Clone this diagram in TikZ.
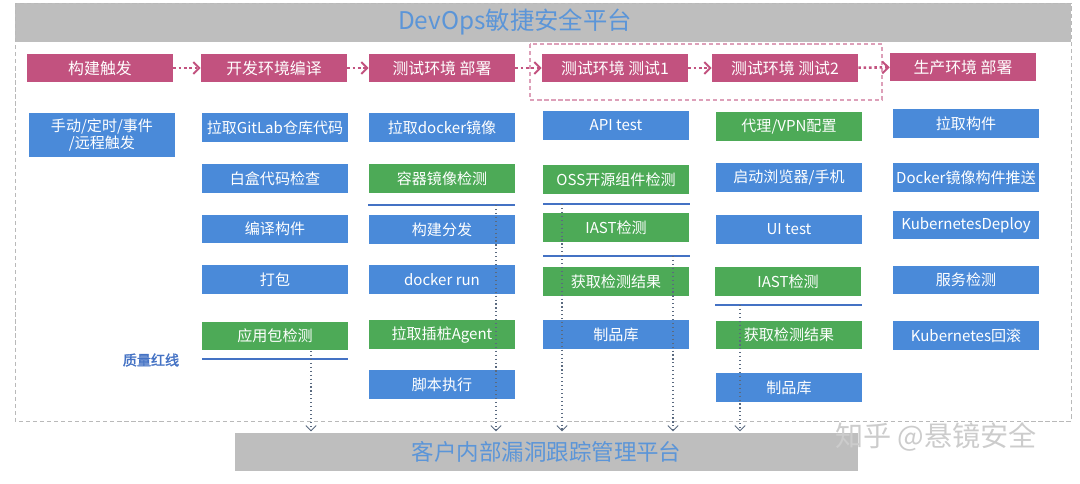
\documentclass[tikz,border=0pt]{standalone}
\usepackage{fontspec}
\setmainfont{Noto Sans CJK SC}[AutoFakeBold=2]
\usetikzlibrary{arrows.meta,calc,positioning}
\definecolor{stagepink}{HTML}{C2527F}
\definecolor{taskblue}{HTML}{4A8AD9}
\definecolor{checkgreen}{HTML}{4DAA57}
\definecolor{titleblue}{HTML}{5B95D8}
\definecolor{bandgray}{HTML}{BEBEBE}
\definecolor{gateblue}{HTML}{4472C4}
\definecolor{reportgray}{HTML}{5A6A80}

\begin{document}
\begin{tikzpicture}[x=0.025cm,y=-0.025cm,
  every node/.style={font=\fontsize{10.7}{12.5}\selectfont},
  box/.style={minimum width=3.65cm,minimum height=0.72cm,inner sep=0pt,text=white,align=center},
  stage/.style={box,fill=stagepink,font=\fontsize{11.3}{13}\selectfont},
  task/.style={box,fill=taskblue},
  check/.style={box,fill=checkgreen},
  flow/.style={stagepink,line width=1.8pt,dotted,
    -{Straight Barb[length=1.5mm,width=3mm,line width=1.4pt]}},
  gate/.style={gateblue,line width=1.6pt},
  report/.style={reportgray,line width=0.8pt,dotted,shorten >=1pt,
    -{Straight Barb[length=1.3mm,width=2.6mm,line width=0.6pt]}}]
  \useasboundingbox (0,0) rectangle (1080,483);

  % platform frame and header
  \fill[bandgray] (15,3) rectangle (1071,42);
  \draw[gray!55,line width=0.6pt,dash pattern=on 3pt off 2pt] (15,3) rectangle (1071,421);
  \node[text=titleblue,font=\fontsize{17.3}{20}\selectfont] (title) at (515,22) {DevOps敏捷安全平台};

  % test stages group
  \draw[stagepink!55,line width=0.8pt,dash pattern=on 3pt off 2pt] (530,44) rectangle (882,100);

  % pipeline stages
  \node[stage] (s1) at (100,68) {构建触发};
  \node[stage] (s2) at (274,68) {开发环境编译};
  \node[stage] (s3) at (442,68) {测试环境 部署};
  \node[stage] (s4) at (615,68) {测试环境 测试1};
  \node[stage] (s5) at (785,68) {测试环境 测试2};
  \node[stage] (s6) at (963,67) {生产环境 部署};
  \foreach \a/\b in {s1/s2,s2/s3,s3/s4,s4/s5,s5/s6}
    \draw[flow] (\a) -- (\b);

  % trigger
  \node[task,minimum height=1.1cm] (t11) at (102,135) {手动/定时/事件\\/远程触发};

  % build
  \node[task] (t21) at (275,127.5) {拉取GitLab仓库代码};
  \node[task] (t22) at (275,178.5) {白盒代码检查};
  \node[task] (t23) at (275,229) {编译构件};
  \node[task] (t24) at (275,279.5) {打包};
  \node[check] (t25) at (275,336) {应用包检测};
  \draw[gate] (202,359) -- (348,359);
  \node[text=gateblue,font=\fontsize{10}{12}\selectfont\bfseries] (redline) at (151,360) {质量红线};

  % test deploy
  \node[task] (t31) at (442,127.5) {拉取docker镜像};
  \node[check] (t32) at (442,178.5) {容器镜像检测};
  \draw[gate] (368,205) -- (515,205);
  \node[task] (t33) at (442,229.5) {构建分发};
  \node[task] (t34) at (442,279.5) {docker run};
  \node[check] (t35) at (442,334.5) {拉取插桩Agent};
  \node[task] (t36) at (442,384.5) {脚本执行};

  % test 1
  \node[task] (t41) at (616,125.5) {API test};
  \node[check] (t42) at (616,179.5) {OSS开源组件检测};
  \draw[gate] (543,204) -- (690,204);
  \node[check] (t43) at (616,227.5) {IAST检测};
  \draw[gate] (543,256) -- (690,256);
  \node[check] (t44) at (616,281.5) {获取检测结果};
  \node[task] (t45) at (616,334.5) {制品库};

  % test 2
  \node[check] (t51) at (789,126.5) {代理/VPN配置};
  \node[task] (t52) at (789,177.5) {启动浏览器/手机};
  \node[task] (t53) at (789,229.5) {UI test};
  \node[check] (t54) at (788,281.5) {IAST检测};
  \draw[gate] (715,305) -- (862,305);
  \node[check] (t55) at (789,335) {获取检测结果};
  \node[task] (t56) at (789,387.5) {制品库};

  % production
  \node[task] (t61) at (966,123.5) {拉取构件};
  \node[task] (t62) at (966,177.5) {Docker镜像构件推送};
  \node[task] (t63) at (966,225) {KubernetesDeploy};
  \node[task] (t64) at (966,280) {服务检测};
  \node[task] (t65) at (966,335.5) {Kubernetes回滚};

  % vulnerability tracking
  \node[fill=bandgray,minimum width=15.575cm,minimum height=0.95cm,inner sep=0pt,
    text=titleblue,font=\fontsize{16}{19}\selectfont] (tracker) at (546.5,452) {客户内部漏洞跟踪管理平台\hspace{0.35cm}};
  \coordinate (r2) at (311,351);
  \coordinate (r3) at (496,205);
  \coordinate (r4) at (562,204);
  \coordinate (r5) at (673,256);
  \coordinate (r6) at (740,305);
  \foreach \r in {r2,r3,r4,r5,r6}
    \draw[report] (\r) -- (\r |- tracker.north);

  \node[text=gray!40,font=\fontsize{20}{24}\selectfont] (mark) at (936,437) {知乎 @悬镜安全};
\end{tikzpicture}
\end{document}
